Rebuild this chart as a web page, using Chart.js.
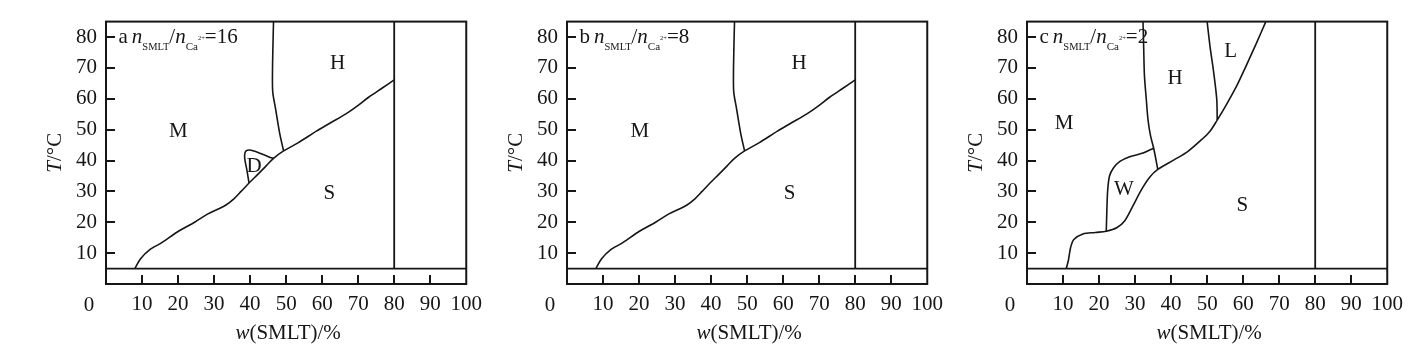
<!DOCTYPE html>
<html>
<head>
<meta charset="utf-8">
<script src="https://cdn.jsdelivr.net/npm/chart.js@4.4.1/dist/chart.umd.min.js"></script>
<style>
  html, body { margin: 0; padding: 0; background: #fff; }
  #wrap { position: relative; width: 1422px; height: 351px; overflow: hidden; }
  .panel { position: absolute; top: 0; width: 490px; height: 351px; }
  canvas { display: block; }
</style>
</head>
<body>
<div id="wrap">
  <div class="panel" style="left:0px"><canvas id="chartA" width="490" height="351"></canvas></div>
  <div class="panel" style="left:461px"><canvas id="chartB" width="490" height="351"></canvas></div>
  <div class="panel" style="left:921px"><canvas id="chartC" width="490" height="351"></canvas></div>
</div>
<script>
// axis ticks
const xTicks = [10, 20, 30, 40, 50, 60, 70, 80, 90, 100];
const yTicks = [10, 20, 30, 40, 50, 60, 70, 80];
const xMax = 100;
const yMax = 85;

// reference lines: lowest temperature and the 80 % limit
const baseT = 5;
const limitW = 80;

// panels a and b: M/S and H/S boundary
const solidusW = [8, 9.6, 12, 15.5, 20, 24.7, 28.3, 31, 33.3, 35.5, 37.5, 39.7, 42.2, 44.4, 46.5, 49.3, 53.4, 58.4, 62, 66.6, 69.8, 72.9, 76.6, 80];
const solidusT = [5, 8.2, 11, 13.4, 17, 20.1, 22.7, 24.2, 25.6, 27.6, 30.0, 32.7, 35.6, 38.2, 40.7, 43.1, 45.8, 49.5, 52, 55.1, 57.7, 60.5, 63.4, 66.1];
// panels a and b: M/H boundary
const mhW = [46.5, 46.3, 46.2, 46.3, 47.0, 48.2, 49.3];
const mhT = [85, 75, 66.5, 62, 57.2, 48.9, 43.1];
// panel a: D pocket
const dW = [39.7, 39.1, 38.5, 38.6, 39.2, 40.3, 42.9, 45.6, 46.5];
const dT = [32.7, 37, 40.7, 42.6, 43.3, 43.3, 42.3, 41.0, 40.7];

// panel c
const solidusCW = [10.9, 11.5, 12.1, 13.0, 15.5, 19.0, 22, 24.9, 27.2, 29.4, 31.7, 34.0, 36.3, 40.8, 44.5, 48.6, 50.8, 52.8, 55.4, 58.1, 60.8, 63.6, 66.3];
const solidusCT = [5, 7.7, 11.8, 14.4, 16.2, 16.7, 17.1, 18.2, 20.6, 25.3, 30.4, 34.5, 37.1, 40.2, 42.8, 46.9, 49.5, 53.1, 58.2, 63.9, 70.6, 77.8, 85];
const wTopW = [22, 22.2, 22.4, 22.9, 24.0, 25.8, 28.5, 32.2, 35.1];
const wTopT = [17.1, 25, 30.4, 35.0, 37.6, 39.7, 41.2, 42.4, 44.0];
const mhCW = [32.2, 32.4, 32.6, 33.1, 33.6, 34.3, 35.2, 36.3];
const mhCT = [85, 76, 67.5, 60, 53.1, 48, 43.8, 37.1];
const hlCW = [50.0, 50.8, 51.7, 52.3, 52.7, 52.8];
const hlCT = [85, 77, 69.6, 64, 59.3, 53.1];

// phase region names (w, T)
const regionsA = [["M", 20.1, 49.8], ["H", 64.3, 71.6], ["D", 41.1, 38.4], ["S", 62.0, 29.7]];
const regionsB = [["M", 20.2, 49.8], ["H", 64.4, 71.6], ["S", 61.8, 29.7]];
const regionsC = [["M", 10.3, 52.3], ["H", 41.1, 67.0], ["L", 56.5, 75.7], ["W", 26.9, 30.9], ["S", 59.8, 25.6]];

const ink = "#161616";
const serif = "'Liberation Serif', 'Times New Roman', serif";

const panelInfo = {
    chartA: { letter: "a", ratio: "16", regions: regionsA },
    chartB: { letter: "b", ratio: "8", regions: regionsB },
    chartC: { letter: "c", ratio: "2", regions: regionsC },
};

function curve(ws, ts, width, tension) {
    return {
        data: ws.map((w, i) => ({ x: w, y: ts[i] })),
        borderColor: ink,
        borderWidth: width,
        pointRadius: 0,
        showLine: true,
        fill: false,
        tension: tension,
    };
}

function refLines() {
    return [
        curve([0, xMax], [baseT, baseT], 1.8, 0),
        curve([limitW, limitW], [baseT, yMax], 1.8, 0),
    ];
}

// draws text pieces one after another with their own fonts
function drawPieces(ctx, x, y, pieces) {
    let cx = x;
    pieces.forEach(([txt, font, dy, gap]) => {
        ctx.font = font;
        ctx.fillText(txt, cx, y + (dy || 0));
        cx += ctx.measureText(txt).width + (gap || 0);
    });
    return cx - x;
}

function piecesWidth(ctx, pieces) {
    let w = 0;
    pieces.forEach(([txt, font, dy, gap]) => {
        ctx.font = font;
        w += ctx.measureText(txt).width + (gap || 0);
    });
    return w;
}

const framePlugin = {
    id: "frame",
    afterDraw(chart) {
        const info = panelInfo[chart.canvas.id];
        const { ctx, chartArea: a } = chart;
        const xs = chart.scales.x;
        const ys = chart.scales.y;
        ctx.save();

        // box
        ctx.strokeStyle = ink;
        ctx.lineWidth = 2;
        ctx.strokeRect(a.left, a.top, a.right - a.left, a.bottom - a.top);

        // tick marks pointing inward
        ctx.beginPath();
        yTicks.forEach((v) => {
            const py = Math.round(ys.getPixelForValue(v));
            ctx.moveTo(a.left, py);
            ctx.lineTo(a.left + 9, py);
        });
        xTicks.filter((v) => v < xMax).forEach((v) => {
            const px = Math.round(xs.getPixelForValue(v));
            ctx.moveTo(px, a.bottom);
            ctx.lineTo(px, a.bottom - 9);
        });
        ctx.stroke();

        ctx.fillStyle = ink;
        const big = "21px " + serif;
        const ital = "italic 21px " + serif;

        // the "0" of the w axis sits left of the frame
        ctx.font = big;
        ctx.textAlign = "center";
        ctx.textBaseline = "middle";
        ctx.fillText("0", xs.getPixelForValue(0) - 17, a.bottom + 21);

        // phase names
        info.regions.forEach(([name, w, t]) => {
            ctx.fillText(name, xs.getPixelForValue(w), ys.getPixelForValue(t) + 1);
        });

        // caption inside the frame
        ctx.textAlign = "left";
        ctx.textBaseline = "alphabetic";
        drawPieces(ctx, a.left + 12.5, a.top + 21, [
            [info.letter, big, 0, 4],
            ["n", ital],
            ["SMLT", "10.5px " + serif, 7],
            ["/", big],
            ["n", ital],
            ["Ca", "11px " + serif, 7],
            ["2+", "6.5px " + serif, -3],
            ["=" + info.ratio, big],
        ]);

        // axis titles
        const xt = [["w", ital], ["(SMLT)/%", big]];
        const xw = piecesWidth(ctx, xt);
        drawPieces(ctx, (a.left + a.right) / 2 + 2 - xw / 2, 338.5, xt);

        const yt = [["T", ital], ["/°C", big]];
        const yw = piecesWidth(ctx, yt);
        ctx.translate(a.left - 52, (a.top + a.bottom) / 2);
        ctx.rotate(-Math.PI / 2);
        drawPieces(ctx, -yw / 2, 7, yt);

        ctx.restore();
    },
};

function makePanel(id, datasets) {
    return new Chart(document.getElementById(id), {
        type: "scatter",
        data: { datasets },
        plugins: [framePlugin],
        options: {
            responsive: false,
            animation: false,
            layout: { padding: { left: 0, right: 18, top: 10, bottom: 0 } },
            plugins: { legend: { display: false }, tooltip: { enabled: false } },
            scales: {
                x: {
                    type: "linear",
                    min: 0,
                    max: xMax,
                    border: { display: false },
                    grid: { display: false, drawTicks: false },
                    afterBuildTicks: (s) => { s.ticks = xTicks.map((v) => ({ value: v })); },
                    afterFit: (s) => { s.height = 67; },
                    ticks: { autoSkip: false, maxRotation: 0, padding: 8, color: ink, font: { family: serif, size: 21 } },
                },
                y: {
                    type: "linear",
                    min: 0,
                    max: yMax,
                    border: { display: false },
                    grid: { display: false, drawTicks: false },
                    afterBuildTicks: (s) => { s.ticks = yTicks.map((v) => ({ value: v })); },
                    afterFit: (s) => { s.width = 106; },
                    ticks: { autoSkip: false, padding: 9, color: ink, font: { family: serif, size: 21 } },
                },
            },
        },
    });
}

makePanel("chartA", [
    ...refLines(),
    curve(solidusW, solidusT, 1.6, 0.3),
    curve(mhW, mhT, 1.6, 0.3),
    curve(dW, dT, 1.6, 0.3),
]);

makePanel("chartB", [
    ...refLines(),
    curve(solidusW, solidusT, 1.6, 0.3),
    curve(mhW, mhT, 1.6, 0.3),
]);

makePanel("chartC", [
    ...refLines(),
    curve(solidusCW, solidusCT, 1.6, 0.3),
    curve(wTopW, wTopT, 1.6, 0.3),
    curve(mhCW, mhCT, 1.6, 0.3),
    curve(hlCW, hlCT, 1.6, 0.3),
]);
</script>
</body>
</html>
